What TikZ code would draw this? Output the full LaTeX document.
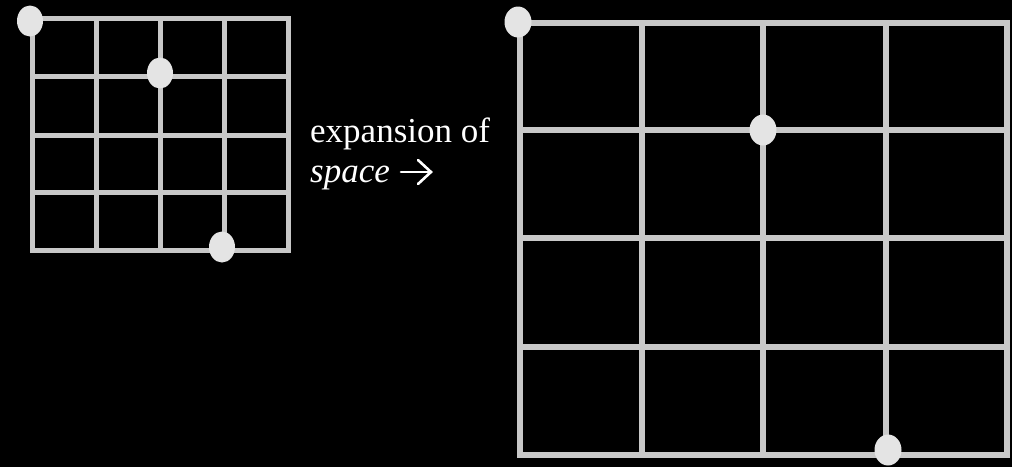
\documentclass[tikz,border=0pt]{standalone}
\usepackage{fontspec}
\setmainfont{Liberation Serif}
\usetikzlibrary{shapes.geometric}
\definecolor{gridgray}{RGB}{200,200,200}
\definecolor{dotgray}{RGB}{228,228,228}
\tikzset{
  smallgrid/.style={draw=gridgray, line width=5pt, line cap=rect},
  biggrid/.style={draw=gridgray, line width=5.5pt, line cap=rect},
  dot/.style={ellipse, fill=dotgray, inner sep=0pt, minimum width=26pt, minimum height=31pt},
  label/.style={text=white, font=\fontsize{35}{40}\selectfont, inner sep=0pt},
  glypharrow/.style={draw=white, line width=2.6pt, line cap=round, line join=miter}
}
\begin{document}
\begin{tikzpicture}[x=1pt,y=-1pt]
\fill[black] (0,0) rectangle (1012,467);
\useasboundingbox (0,0) rectangle (1012,467);
% small grid
\foreach \x in {32,96,160,224,288} \draw[smallgrid] (\x,18) -- (\x,250);
\foreach \y in {18,76,135,192,250} \draw[smallgrid] (32,\y) -- (288,\y);
% big grid
\foreach \x in {520,642,763,886,1007} \draw[biggrid] (\x,23) -- (\x,455);
\foreach \y in {23,130,238,347,455} \draw[biggrid] (520,\y) -- (1007,\y);
% dots
\node[dot] (s1) at (30,21) {};
\node[dot] (s2) at (160,73) {};
\node[dot] (s3) at (222,247) {};
\node[dot, minimum width=27pt, minimum height=31pt] (b1) at (518,22) {};
\node[dot, minimum width=27pt, minimum height=31pt] (b2) at (763,130) {};
\node[dot, minimum width=27pt, minimum height=31pt] (b3) at (888,450) {};
% label
\node[label, anchor=base west] (txt1) at (310,142) {expansion of};
\node[label, anchor=base west] (txt2) at (310,182) {\textit{space}};
\coordinate (as) at (401,172);
\coordinate (ae) at (431,172);
\coordinate (ht) at (418,160);
\coordinate (hb) at (418,184);
\draw[glypharrow] (as) -- (ae);
\draw[glypharrow] (ht) -- (ae) -- (hb);
\end{tikzpicture}
\end{document}
